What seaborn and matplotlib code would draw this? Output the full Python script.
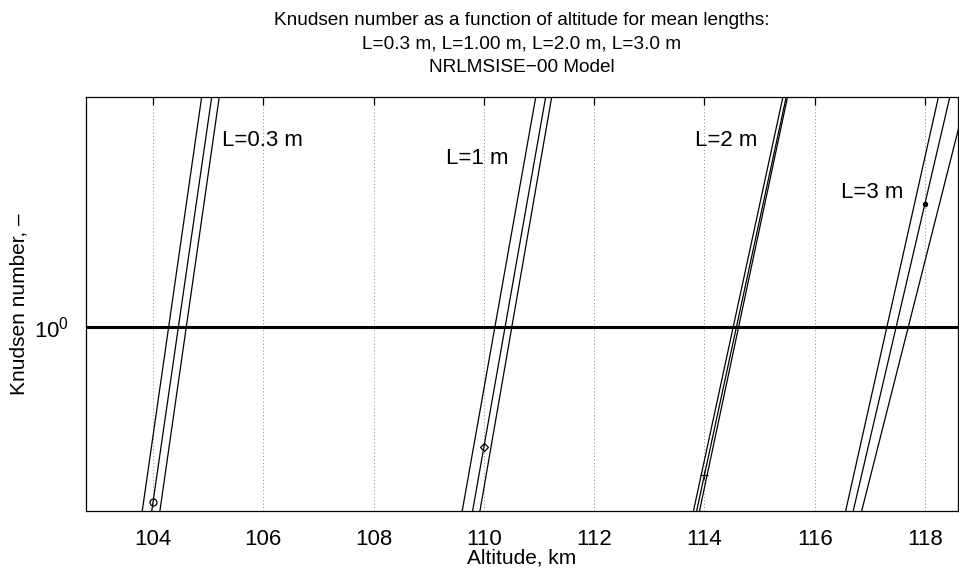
import matplotlib
matplotlib.use("Agg")
import matplotlib.pyplot as plt
import seaborn as sns
import pandas as pd
import numpy as np

# ---- data ----
line_names = ["L0.3a", "L0.3b", "L0.3c",
              "L1a", "L1b", "L1c",
              "L2a", "L2b", "L2c",
              "L3a", "L3b", "L3c"]
line_alt = [[103, 106], [103, 106], [103, 106],
            [109, 112], [109, 112], [109, 112],
            [113, 116], [113, 116], [113, 116],
            [116, 119], [116, 119], [116, 119]]
line_kn = [[0.7544, 1.4573], [0.7279, 1.3975], [0.7030, 1.3590],
           [0.8082, 1.3757], [0.7809, 1.3339], [0.7603, 1.3114],
           [0.8009, 1.2402], [0.7943, 1.2293], [0.7865, 1.2266],
           [0.8318, 1.2681], [0.8191, 1.2280], [0.8096, 1.1757]]

marker_alt = [104, 110, 114, 118]
marker_kn = [0.9046, 0.9335, 0.9187, 1.0729]
marker_style = ["o", "D", "+", "."]

label_text = ["L=0.3 m", "L=1 m", "L=2 m", "L=3 m"]
label_alt = [105.25, 109.31, 113.83, 116.48]
label_kn = [1.1125, 1.1011, 1.1125, 1.080]

x_ticks = [104, 106, 108, 110, 112, 114, 116, 118]

title_lines = ["Knudsen number as a function of altitude for mean lengths:",
               "L=0.3 m, L=1.00 m, L=2.0 m, L=3.0 m",
               "NRLMSISE\u221200 Model"]

# ---- build table ----
rows = []
for name, alts, kns in zip(line_names, line_alt, line_kn):
    for a, k in zip(alts, kns):
        rows.append({"line": name, "alt": a, "kn": k})
df = pd.DataFrame(rows)

sns.set_theme(style="white")
plt.rcParams["font.family"] = ["Liberation Sans", "DejaVu Sans"]
plt.rcParams["mathtext.fontset"] = "custom"
plt.rcParams["mathtext.rm"] = "Liberation Sans"
plt.rcParams["mathtext.it"] = "Liberation Sans"
for key in ["text.color", "axes.labelcolor", "xtick.color", "ytick.color",
            "axes.edgecolor"]:
    plt.rcParams[key] = "black"

fig = plt.figure(figsize=(9.59, 5.69), dpi=100)
ax = fig.add_axes([86 / 959, 58 / 569, (958 - 86) / 959, (511 - 97) / 569])

sns.lineplot(data=df, x="alt", y="kn", units="line", estimator=None,
             color="black", linewidth=0.9, ax=ax, legend=False, sort=False)

for a, k, m in zip(marker_alt, marker_kn, marker_style):
    if m in ("o", "D"):
        ax.plot([a], [k], marker=m, markersize=5 if m == "o" else 4,
                markerfacecolor="none", markeredgecolor="black",
                markeredgewidth=0.9, linestyle="none")
    else:
        ax.plot([a], [k], marker=m, markersize=6,
                color="black", markeredgewidth=0.9, linestyle="none")

ax.axhline(1.0, color="black", linewidth=2.2)

for t, a, k in zip(label_text, label_alt, label_kn):
    ax.text(a, k, t, fontsize=16, va="center", ha="left", color="black")

ax.set_yscale("log")
ax.set_xlim(102.785, 118.6)
ax.set_ylim(0.9002, 1.1404)
ax.set_xticks(x_ticks)
ax.set_xticklabels([str(v) for v in x_ticks])
ax.set_yticks([1.0])
ax.set_yticklabels([r"$10^{0}$"])
ax.yaxis.set_minor_locator(matplotlib.ticker.NullLocator())

ax.xaxis.grid(True, linestyle=(0, (1, 2.5)), color="#888888", linewidth=0.7)
ax.yaxis.grid(False)

ax.tick_params(axis="both", direction="in", length=6, width=0.9,
               top=True, right=True, labelsize=16, colors="black")
ax.tick_params(axis="x", pad=13)
ax.tick_params(axis="y", pad=12)
for s in ax.spines.values():
    s.set_color("black")
    s.set_linewidth(0.9)

ax.set_xlabel("Altitude, km", fontsize=15, labelpad=-1, color="black")
ax.set_ylabel("Knudsen number, \u2013", fontsize=15, labelpad=4, color="black")
ax.set_title("\n".join(title_lines), fontsize=13.7, linespacing=1.5, pad=18,
             color="black")

fig.savefig("out.png", dpi=100)
